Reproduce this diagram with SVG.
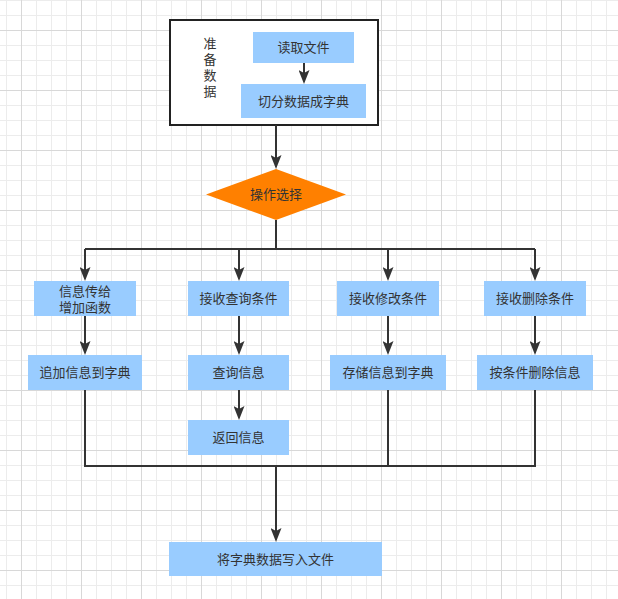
<svg xmlns="http://www.w3.org/2000/svg" width="618" height="599" viewBox="0 0 618 599">
<defs>
<pattern id="minor" patternUnits="userSpaceOnUse" x="6" y="0" width="15" height="15">
<path d="M0.5,0 V15 M0,0.5 H15" stroke="#ececec" stroke-width="1" fill="none"/>
</pattern>
<pattern id="major" patternUnits="userSpaceOnUse" x="21" y="30" width="60" height="60">
<path d="M0.5,0 V60 M0,0.5 H60" stroke="#d8d8d8" stroke-width="1" fill="none"/>
</pattern>
<marker id="arr" markerUnits="userSpaceOnUse" markerWidth="15" markerHeight="11" refX="3" refY="5.5" orient="auto">
<path d="M0,0 L14,5.5 L0,11 L3,5.5 z" fill="#333333"/>
</marker>
<style>
.box{fill:#99CCFF;stroke:none}
.t{font-family:"Liberation Sans","Noto Sans CJK SC",sans-serif;font-size:13px;fill:#333333;text-anchor:middle;dominant-baseline:central}
.c{fill:none;stroke:#333333;stroke-width:2}
</style>
</defs>
<rect width="618" height="599" fill="#ffffff"/>
<rect width="618" height="599" fill="url(#minor)"/>
<rect width="618" height="599" fill="url(#major)"/>

<g id="prepare">
<rect x="170" y="20" width="208" height="105" fill="#ffffff" stroke="#222222" stroke-width="2"/>
<text class="t" x="210" y="43">准</text>
<text class="t" x="210" y="59">备</text>
<text class="t" x="210" y="75">数</text>
<text class="t" x="210" y="91">据</text>
</g>
<g id="read"><rect class="box" x="253" y="32" width="101" height="31"/><text class="t" x="303.5" y="47.5">读取文件</text></g>
<g id="split"><rect class="box" x="241" y="84" width="125" height="34"/><text class="t" x="303.5" y="101">切分数据成字典</text></g>
<g id="choose"><polygon points="276,169 346,194.5 276,220 206,194.5" fill="#FF8000"/><text class="t" x="276" y="194.5">操作选择</text></g>

<g id="add1"><rect class="box" x="34" y="281" width="102" height="35"/><text class="t" x="85" y="291">信息传给</text><text class="t" x="85" y="307">增加函数</text></g>
<g id="q1"><rect class="box" x="188" y="281" width="101" height="35"/><text class="t" x="238.5" y="298.5">接收查询条件</text></g>
<g id="m1"><rect class="box" x="337" y="281" width="102" height="35"/><text class="t" x="388" y="298.5">接收修改条件</text></g>
<g id="d1"><rect class="box" x="484" y="281" width="102" height="35"/><text class="t" x="535" y="298.5">接收删除条件</text></g>

<g id="add2"><rect class="box" x="28" y="355" width="114" height="35"/><text class="t" x="85" y="372.5">追加信息到字典</text></g>
<g id="q2"><rect class="box" x="188" y="355" width="101" height="35"/><text class="t" x="238.5" y="372.5">查询信息</text></g>
<g id="m2"><rect class="box" x="330" y="355" width="116" height="35"/><text class="t" x="388" y="372.5">存储信息到字典</text></g>
<g id="d2"><rect class="box" x="477" y="355" width="116" height="35"/><text class="t" x="535" y="372.5">按条件删除信息</text></g>
<g id="q3"><rect class="box" x="188" y="420" width="101" height="35"/><text class="t" x="238.5" y="437.5">返回信息</text></g>

<g id="write"><rect class="box" x="169" y="542" width="213" height="34"/><text class="t" x="275.5" y="559">将字典数据写入文件</text></g>

<g id="connectors">
<path class="c" d="M304,63 V73" marker-end="url(#arr)"/>
<path class="c" d="M276,125 V158" marker-end="url(#arr)"/>
<path class="c" d="M276,220 V249 M85,249 H535"/>
<path class="c" d="M85,249 V270" marker-end="url(#arr)"/>
<path class="c" d="M239,249 V270" marker-end="url(#arr)"/>
<path class="c" d="M388,249 V270" marker-end="url(#arr)"/>
<path class="c" d="M535,249 V270" marker-end="url(#arr)"/>
<path class="c" d="M85,316 V344" marker-end="url(#arr)"/>
<path class="c" d="M239,316 V344" marker-end="url(#arr)"/>
<path class="c" d="M388,316 V344" marker-end="url(#arr)"/>
<path class="c" d="M535,316 V344" marker-end="url(#arr)"/>
<path class="c" d="M239,390 V409" marker-end="url(#arr)"/>
<path class="c" d="M85,390 V466 H535 V390 M388,390 V466"/>
<path class="c" d="M276,466 V531" marker-end="url(#arr)"/>
</g>
</svg>
